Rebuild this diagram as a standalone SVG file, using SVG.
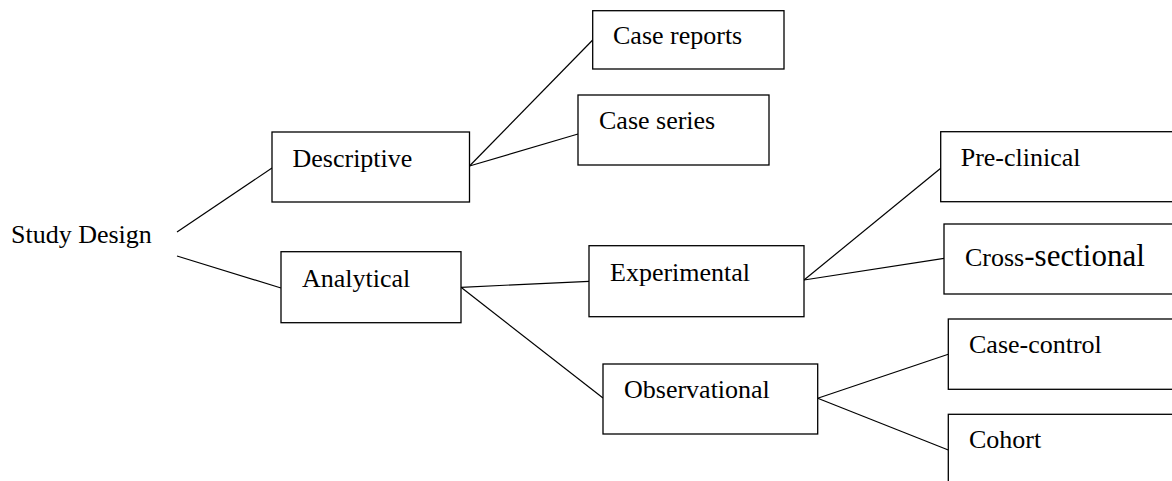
<svg xmlns="http://www.w3.org/2000/svg" width="1172" height="481" viewBox="0 0 1172 481">
<style>
.box{fill:#fff;stroke:#000;stroke-width:1.3}
.t{font-family:"Liberation Serif","Times New Roman",serif;font-size:26px;fill:#000}
.c line{stroke:#000;stroke-width:1.2}
</style>
<rect width="1172" height="481" fill="#fff"/>
<g class="c" id="connectors">
<line x1="177" y1="232" x2="272" y2="168"/>
<line x1="177" y1="256" x2="281" y2="288"/>
<line x1="469.5" y1="166" x2="592.7" y2="40"/>
<line x1="469.5" y1="166" x2="578" y2="134"/>
<line x1="461" y1="287.3" x2="589" y2="281.3"/>
<line x1="461" y1="287.3" x2="603" y2="398"/>
<line x1="804" y1="280" x2="940.7" y2="168.3"/>
<line x1="804" y1="280" x2="944" y2="258.3"/>
<line x1="817.7" y1="398.3" x2="948.3" y2="354.3"/>
<line x1="817.7" y1="398.3" x2="948.3" y2="450"/>
</g>
<g id="study-design"><text class="t" x="11" y="243">Study Design</text></g>
<g id="descriptive"><rect class="box" x="272" y="132" width="197.5" height="70"/><text class="t" x="292.5" y="167">Descriptive</text></g>
<g id="case-reports"><rect class="box" x="592.7" y="10.7" width="191.3" height="58.3"/><text class="t" x="613" y="44">Case reports</text></g>
<g id="case-series"><rect class="box" x="578" y="95" width="191" height="70"/><text class="t" x="599" y="129">Case series</text></g>
<g id="analytical"><rect class="box" x="281" y="251.7" width="180" height="71"/><text class="t" x="302" y="287">Analytical</text></g>
<g id="experimental"><rect class="box" x="589" y="245.7" width="215" height="71"/><text class="t" x="610" y="281">Experimental</text></g>
<g id="observational"><rect class="box" x="603" y="364" width="214.7" height="70"/><text class="t" x="624" y="398">Observational</text></g>
<g id="pre-clinical"><rect class="box" x="940.7" y="131.7" width="250" height="70"/><text class="t" x="960.7" y="166">Pre-clinical</text></g>
<g id="cross-sectional"><rect class="box" x="944" y="224" width="250" height="70"/><text class="t" x="965" y="266">Cross<tspan style="font-size:31px">-sectional</tspan></text></g>
<g id="case-control"><rect class="box" x="948.3" y="319" width="250" height="70.3"/><text class="t" x="969" y="353.3">Case-control</text></g>
<g id="cohort"><rect class="box" x="948.3" y="414.3" width="250" height="80"/><text class="t" x="969" y="448.3">Cohort</text></g>
</svg>
